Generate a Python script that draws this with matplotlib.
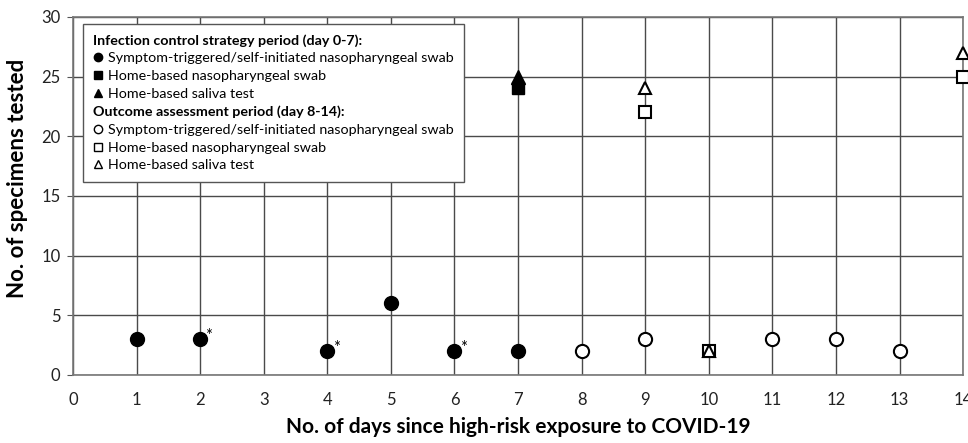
import matplotlib.pyplot as plt
from matplotlib.lines import Line2D

plt.rcParams['font.family'] = ['Lato', 'DejaVu Sans']

# Infection control strategy period (day 0-7), filled markers
ic_symptom_days = [1, 2, 4, 5, 6, 7]
ic_symptom_vals = [3, 3, 2, 6, 2, 2]
ic_np_days = [7]
ic_np_vals = [24]
ic_saliva_days = [7]
ic_saliva_vals = [25]

# Outcome assessment period (day 8-14), open markers
oa_symptom_days = [8, 9, 11, 12, 13]
oa_symptom_vals = [2, 3, 3, 3, 2]
oa_np_days = [9, 10, 14]
oa_np_vals = [22, 2, 25]
oa_saliva_days = [9, 10, 14]
oa_saliva_vals = [24, 2, 27]

# days flagged with an asterisk
star_days = [2, 4, 6]
star_vals = [3, 2, 2]

grid_col = '#4a4a4a'

fig, ax = plt.subplots(figsize=(9.68, 4.43), dpi=100)
fig.subplots_adjust(left=0.0754, right=0.995, top=0.962, bottom=0.1535)

ax.set_xlim(0, 14)
ax.set_ylim(0, 30)
ax.set_xticks(range(0, 15))
ax.set_yticks(range(0, 31, 5))
ax.grid(True, color=grid_col, linewidth=1.0)
ax.set_axisbelow(True)
for s in ax.spines.values():
    s.set_color('#777777')
    s.set_linewidth(1.2)
ax.tick_params(axis='x', length=0, pad=12, labelsize=12, colors='#222222')
ax.tick_params(axis='y', length=4, pad=5, labelsize=12, colors='#222222', color='#555555')

ms = 10
kw = dict(linestyle='none', color='black', clip_on=False, zorder=3)
ax.plot(ic_symptom_days, ic_symptom_vals, marker='o', markersize=ms, **kw)
ax.plot(ic_np_days, ic_np_vals, marker='s', markersize=ms - 1, **kw)
ax.plot(ic_saliva_days, ic_saliva_vals, marker='^', markersize=ms, **kw)
okw = dict(linestyle='none', markerfacecolor='white', markeredgecolor='black',
           markeredgewidth=1.5, clip_on=False, zorder=3)
ax.plot(oa_symptom_days, oa_symptom_vals, marker='o', markersize=ms - 0.5, **okw)
ax.plot(oa_np_days, oa_np_vals, marker='s', markersize=ms - 1, **okw)
ax.plot(oa_saliva_days, oa_saliva_vals, marker='^', markersize=ms - 1.5, **okw)

for d, v in zip(star_days, star_vals):
    ax.annotate('*', xy=(d, v), xytext=(6.3, 2), textcoords='offset points',
                fontsize=12, ha='center', va='center')

ax.set_xlabel('No. of days since high-risk exposure to COVID-19',
              fontsize=15, fontweight='bold', labelpad=7)
ax.set_ylabel('No. of specimens tested', fontsize=16, fontweight='bold')
ax.yaxis.set_label_coords(-0.05, 0.55)

# legend with two bold section headers
blank = Line2D([], [], linestyle='none')
lm = 6
handles = [
    blank,
    Line2D([], [], linestyle='none', marker='o', color='black', markersize=lm),
    Line2D([], [], linestyle='none', marker='s', color='black', markersize=lm - 0.5),
    Line2D([], [], linestyle='none', marker='^', color='black', markersize=lm),
    blank,
    Line2D([], [], linestyle='none', marker='o', markerfacecolor='white',
           markeredgecolor='black', markersize=lm),
    Line2D([], [], linestyle='none', marker='s', markerfacecolor='white',
           markeredgecolor='black', markersize=lm - 0.5),
    Line2D([], [], linestyle='none', marker='^', markerfacecolor='white',
           markeredgecolor='black', markersize=lm),
]
labels = [
    'Infection control strategy period (day 0-7):',
    'Symptom-triggered/self-initiated nasopharyngeal swab',
    'Home-based nasopharyngeal swab',
    'Home-based saliva test',
    'Outcome assessment period (day 8-14):',
    'Symptom-triggered/self-initiated nasopharyngeal swab',
    'Home-based nasopharyngeal swab',
    'Home-based saliva test',
]
fs = 10.3
leg = ax.legend(handles, labels, loc='upper left', bbox_to_anchor=(0.0112, 0.980),
                fontsize=fs, handlelength=0.7, handletextpad=0.35, labelspacing=0.4,
                borderpad=0.7, frameon=True, fancybox=False, framealpha=1,
                edgecolor='#555555', borderaxespad=0)
leg.get_frame().set_linewidth(1.0)
shift = (0.7 + 0.35) * fs * 100 / 72
for i in (0, 4):
    t = leg.get_texts()[i]
    t.set_fontweight('bold')
    t.set_x(-shift)

fig.savefig('out.png', dpi=100)
